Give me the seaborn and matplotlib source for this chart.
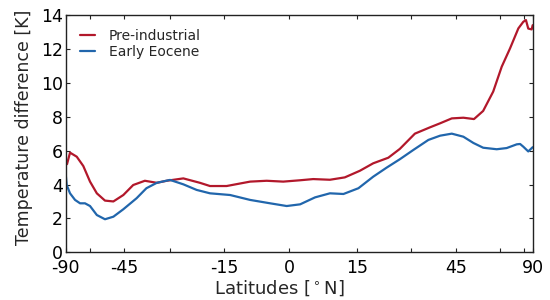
"""Zonal-mean temperature difference vs latitude: pre-industrial vs early Eocene."""

import matplotlib
matplotlib.use("Agg")
import matplotlib.pyplot as plt
import numpy as np
import pandas as pd
import seaborn as sns

# ── Data ──────────────────────────────────────────────────────────────
lat_pi = [-90, -88.4, -84.7, -76.4, -68.3, -60, -57.0, -53.4, -49.7, -45.3,
          -42.0, -38.2, -34.3, -31.1, -26.3, -21.7, -18.9, -14.4, -9.0, -5.2,
          -1.4, 2.4, 5.3, 9.0, 12.3, 15.8, 19.5, 23.7, 26.9, 31.3,
          36.3, 39.7, 43.6, 47.5, 51.1, 54.2, 57.6, 60.9, 66.1, 71.3,
          74.4, 78.0, 82.1, 88.2, 90]
dT_pi = [5.3, 5.2, 5.88, 5.64, 5.09, 4.17, 3.48, 3.05, 3.0, 3.38,
         3.97, 4.22, 4.1, 4.22, 4.36, 4.1, 3.91, 3.91, 4.17, 4.22,
         4.17, 4.25, 4.32, 4.28, 4.42, 4.81, 5.25, 5.58, 6.1, 7.0,
         7.37, 7.61, 7.9, 7.94, 7.86, 8.34, 9.48, 10.95, 12.03, 13.21,
         13.6, 13.7, 13.2, 13.15, 13.4]

lat_eo = [-90, -88.8, -84.7, -78.5, -72.3, -66.2, -60, -57.0, -53.4, -49.7,
          -45.3, -40.9, -37.7, -34.3, -30, -26.3, -22.6, -18.9, -13.6, -9.0,
          -4.4, -0.6, 2.4, 5.7, 9.0, 12.0, 15.4, 19.5, 23.2, 26.9,
          30.8, 35.8, 39.7, 43.6, 47.5, 50.9, 54.2, 58.8, 64.0, 70.3,
          72.4, 74.4, 82.1, 90]
dT_eo = [4.6, 3.97, 3.48, 3.09, 2.89, 2.89, 2.73, 2.2, 1.95, 2.1,
         2.54, 3.19, 3.78, 4.1, 4.27, 4.01, 3.68, 3.48, 3.38, 3.09,
         2.89, 2.73, 2.83, 3.24, 3.48, 3.44, 3.78, 4.46, 4.99, 5.49,
         6.04, 6.63, 6.88, 7.0, 6.82, 6.45, 6.17, 6.08, 6.15, 6.37,
         6.39, 6.23, 5.95, 6.2]

labels = ["Pre-industrial", "Early Eocene"]
colors = ["#b2182b", "#2166ac"]

major_lats = [-90, -45, -15, 0, 15, 45, 90]
minor_lats = [-60, -30, 30, 60, 75]

# latitude axis is stretched (roughly area-weighted) in the original figure
scale_lat = [-90, -60, -45, -30, -15, 0, 15, 30, 45, 60, 75, 90]
scale_pos = [65.7, 90, 124, 170, 224, 289.3, 357, 411, 456, 500.3, 524.3, 532.7]


def fwd(x):
    return np.interp(x, scale_lat, scale_pos)


def inv(x):
    return np.interp(x, scale_pos, scale_lat)


df = pd.concat([
    pd.DataFrame({"lat": lat_pi, "dT": dT_pi, "run": labels[0]}),
    pd.DataFrame({"lat": lat_eo, "dT": dT_eo, "run": labels[1]}),
])

sns.set_style("ticks")
plt.rcParams["font.family"] = ["DejaVu Sans"]
plt.rcParams["axes.unicode_minus"] = False

fig, ax = plt.subplots(figsize=(5.5, 3.0), dpi=100)
fig.subplots_adjust(left=0.1195, right=0.9685, bottom=0.159, top=0.95)

ax.set_xscale("function", functions=(fwd, inv))
sns.lineplot(data=df, x="lat", y="dT", hue="run", palette=colors,
             hue_order=labels, sort=False, estimator=None, linewidth=1.6, ax=ax)

ax.set_xlim(-90, 90)
ax.set_ylim(0, 14)
ax.set_xticks(major_lats)
ax.set_xticklabels([str(t) for t in major_lats])
ax.set_xticks(minor_lats, minor=True)
ax.set_yticks(np.arange(0, 15, 2))

for s in ax.spines.values():
    s.set_visible(True)
    s.set_color("#222222")
    s.set_linewidth(1.0)
ax.tick_params(which="both", direction="in", top=True, right=True,
               length=3, width=0.8, labelsize=12.5, colors="#222222",
               labelcolor="black")
ax.tick_params(axis="x", which="both", pad=4.5)
ax.tick_params(axis="y", which="both", pad=2)

ax.set_xlabel("Latitudes [$^\\circ$N]", fontsize=13)
ax.set_ylabel("Temperature difference [K]", fontsize=12.5)
ax.xaxis.set_label_coords(0.457, -0.11)
ax.yaxis.set_label_coords(-0.07, 0.526)

leg = ax.legend(loc="upper left", frameon=False, fontsize=10,
                handlelength=1.1, handletextpad=1.0, labelspacing=0.15,
                borderaxespad=0.6)

plt.savefig("out.png", dpi=100)
